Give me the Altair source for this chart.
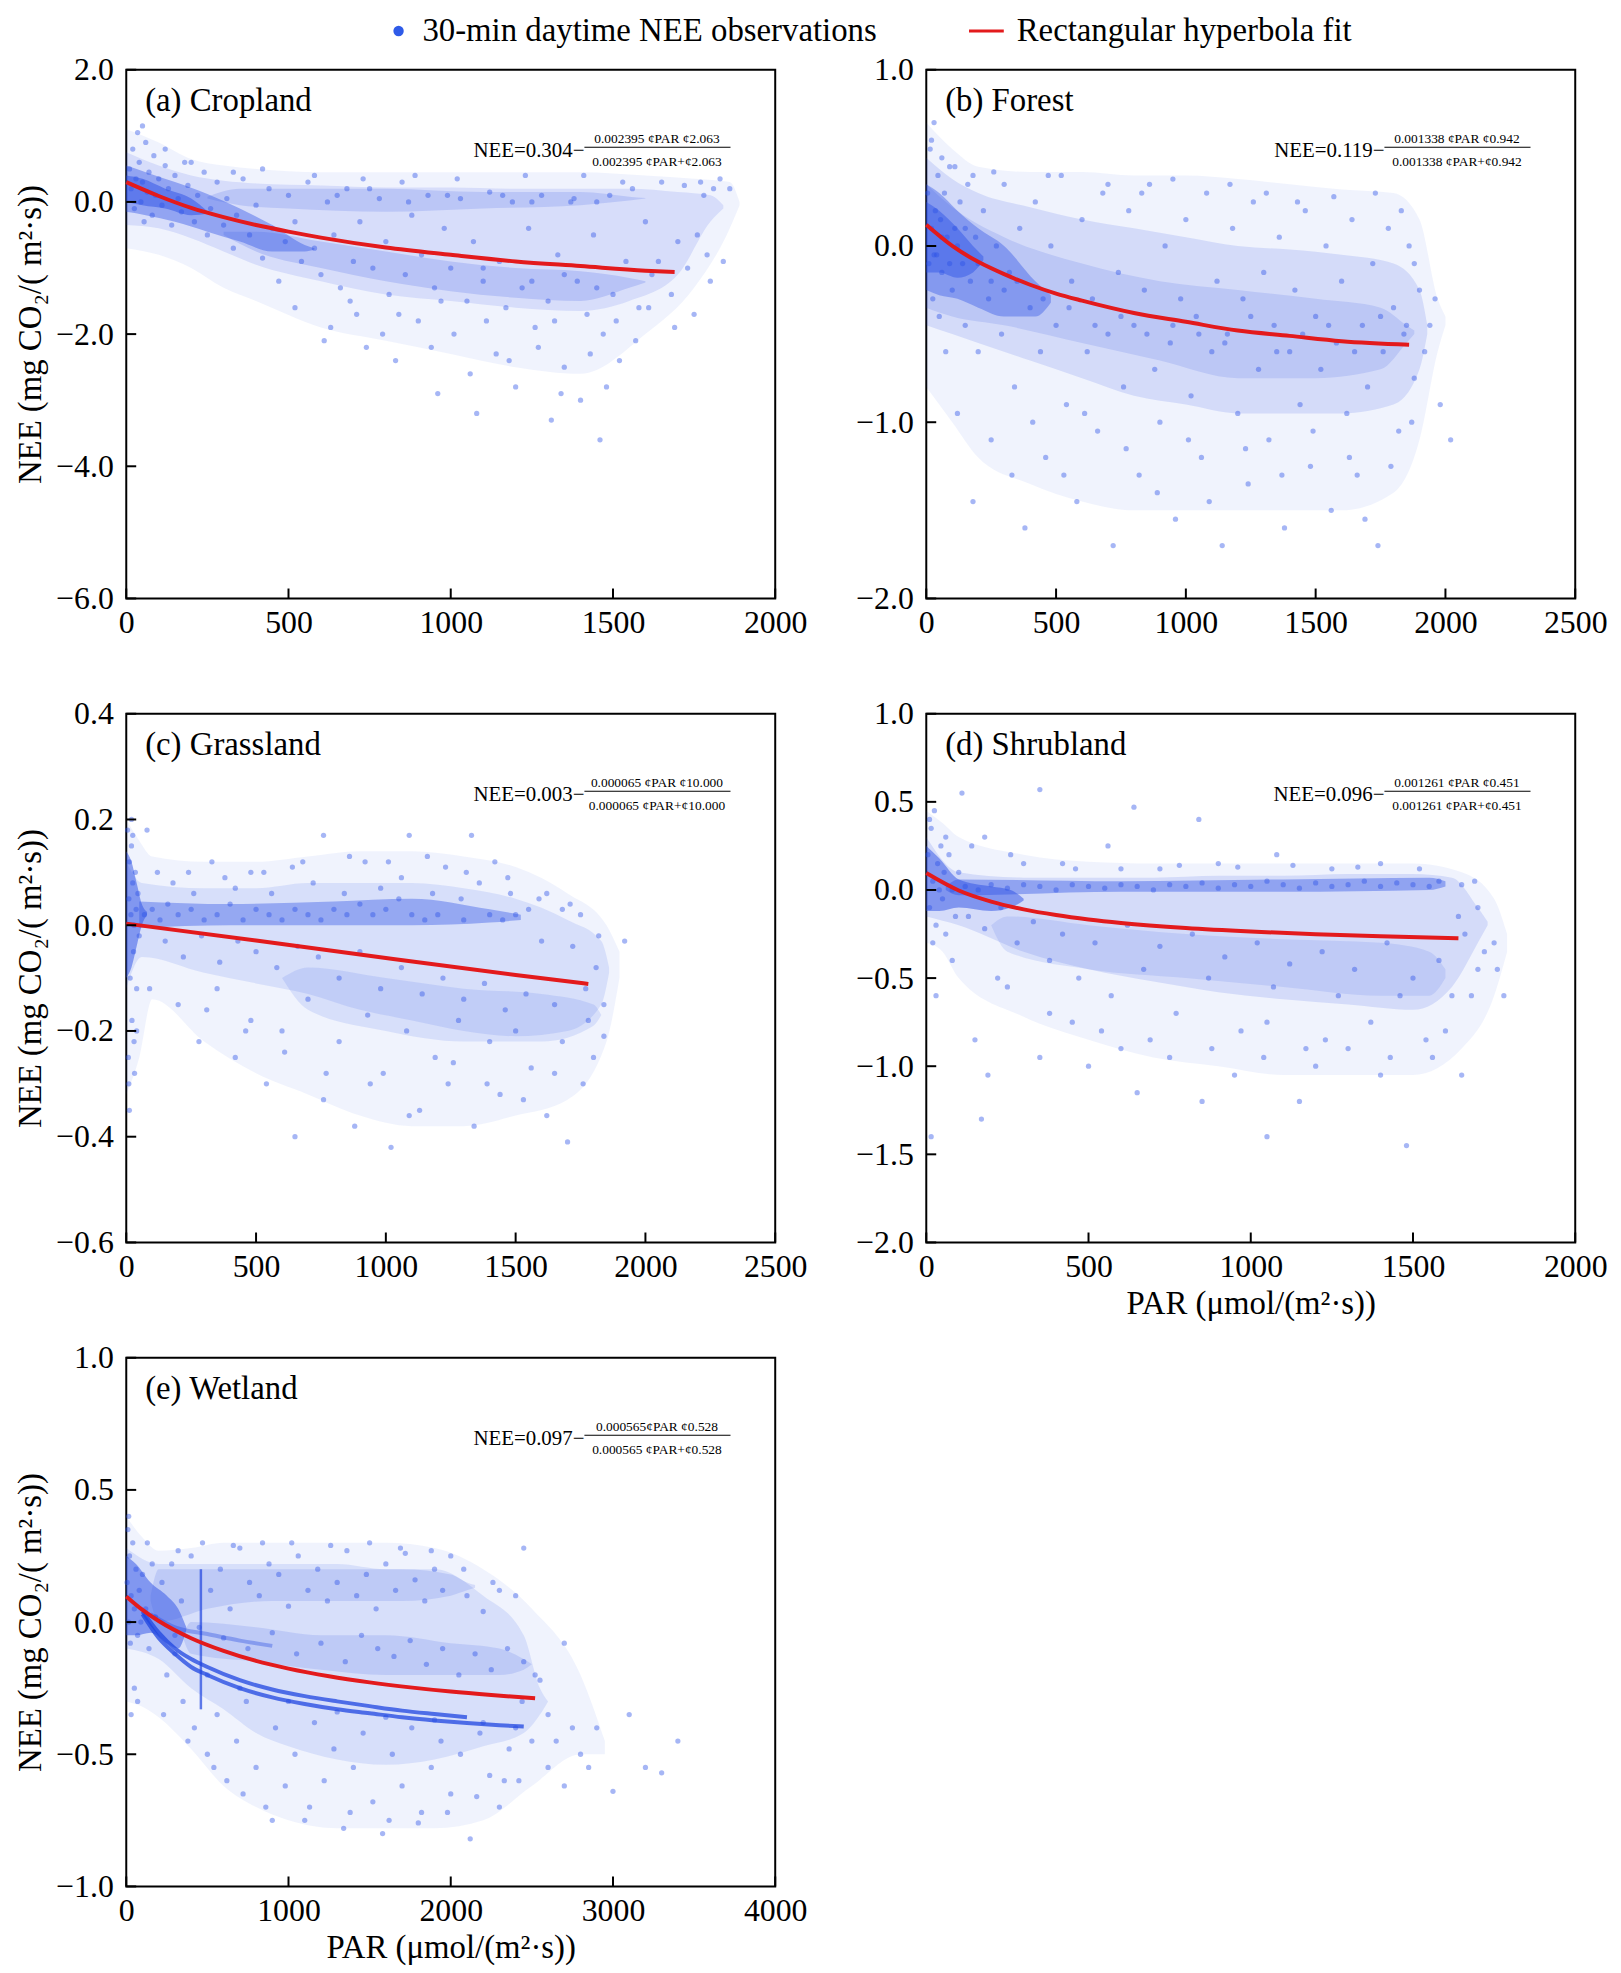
import altair as alt
import pandas as pd

FONT = "Liberation Serif"
BLUE = "#2b50e6"
RED = "#e31a1c"
W, H = 653, 532

PANEL_LABELS = ["(a) Cropland", "(b) Forest", "(c) Grassland", "(d) Shrubland", "(e) Wetland"]
EQ_R = ["0.304", "0.119", "0.003", "0.096", "0.097"]
EQ_NUM = ["0.002395 ¢PAR ¢2.063", "0.001338 ¢PAR ¢0.942", "0.000065 ¢PAR ¢10.000",
          "0.001261 ¢PAR ¢0.451", "0.000565¢PAR ¢0.528"]
EQ_DEN = ["0.002395 ¢PAR+¢2.063", "0.001338 ¢PAR+¢0.942", "0.000065 ¢PAR+¢10.000",
          "0.001261 ¢PAR+¢0.451", "0.000565 ¢PAR+¢0.528"]
LEGEND_LABELS = ["30-min daytime NEE observations", "Rectangular hyperbola fit"]
X_TITLE = "PAR (μmol/(m²·s))"
Y_TITLE = "NEE (mg CO₂/( m²·s))"

X_DOMAINS = [[0, 2000], [0, 2500], [0, 2500], [0, 2000], [0, 4000]]
X_TICKS = [[0, 500, 1000, 1500, 2000], [0, 500, 1000, 1500, 2000, 2500],
           [0, 500, 1000, 1500, 2000, 2500], [0, 500, 1000, 1500, 2000],
           [0, 1000, 2000, 3000, 4000]]
Y_DOMAINS = [[-6, 2], [-2, 1], [-0.6, 0.4], [-2, 1], [-1, 1]]
Y_TICKS = [[-6, -4, -2, 0, 2], [-2, -1, 0, 1], [-0.6, -0.4, -0.2, 0, 0.2, 0.4],
           [-2, -1.5, -1, -0.5, 0, 0.5, 1], [-1, -0.5, 0, 0.5, 1]]

# ---------------- fitted curves ----------------
CROP_FIT_PAR = [0, 100, 200, 300, 400, 500, 600, 800, 1000, 1200, 1400, 1600, 1690]
CROP_FIT_NEE = [0.30, 0.09, -0.09, -0.23, -0.35, -0.45, -0.54, -0.69, -0.80, -0.90, -0.97, -1.04, -1.06]
FOREST_FIT_PAR = [0, 100, 200, 300, 400, 500, 600, 800, 1000, 1200, 1400, 1600, 1860]
FOREST_FIT_NEE = [0.12, 0.00, -0.09, -0.16, -0.22, -0.27, -0.31, -0.38, -0.43, -0.48, -0.51, -0.54, -0.56]
GRASS_FIT_PAR = [0, 500, 1000, 1500, 1780]
GRASS_FIT_NEE = [0.003, -0.029, -0.062, -0.094, -0.111]
SHRUB_FIT_PAR = [0, 100, 200, 300, 400, 500, 600, 800, 1000, 1200, 1400, 1640]
SHRUB_FIT_NEE = [0.096, -0.003, -0.066, -0.11, -0.142, -0.167, -0.187, -0.216, -0.236, -0.251, -0.263, -0.274]
WET_FIT_PAR = [0, 100, 200, 400, 600, 800, 1000, 1250, 1500, 1750, 2000, 2250, 2520]
WET_FIT_NEE = [0.097, 0.046, 0.004, -0.061, -0.109, -0.147, -0.176, -0.205, -0.228, -0.247, -0.263, -0.276, -0.288]

# ---------------- density envelopes of the observation clouds: (par, lo, hi) ----------------
CROP_OUTER = [(0, -0.7, 1.1), (100, -0.8, 0.9), (200, -1.0, 0.65), (300, -1.3, 0.55), (400, -1.5, 0.5),
              (600, -1.9, 0.45), (800, -2.1, 0.45), (1000, -2.3, 0.45), (1200, -2.5, 0.45), (1400, -2.6, 0.45),
              (1600, -2.0, 0.4), (1750, -1.3, 0.35), (1860, -0.4, 0.3), (1890, -0.05, 0.0)]
CROP_CORE = [(0, -0.35, 0.75), (100, -0.4, 0.55), (200, -0.55, 0.4), (300, -0.75, 0.32), (400, -0.95, 0.28),
             (600, -1.2, 0.25), (800, -1.4, 0.22), (1000, -1.5, 0.22), (1200, -1.6, 0.2), (1400, -1.65, 0.2),
             (1550, -1.5, 0.2), (1700, -1.1, 0.15), (1800, -0.3, 0.1), (1840, -0.1, -0.05)]
CROP_UPPER = [(250, 0.05, 0.08), (350, -0.05, 0.2), (500, -0.1, 0.2), (800, -0.15, 0.2), (1100, -0.1, 0.15),
              (1400, -0.05, 0.15), (1550, 0.02, 0.08), (1600, 0.05, 0.06)]
CROP_LOWER = [(300, -0.5, -0.45), (400, -0.75, -0.45), (600, -1.0, -0.6), (800, -1.2, -0.75),
              (1000, -1.35, -0.9), (1200, -1.45, -1.0), (1400, -1.5, -1.05), (1550, -1.3, -1.15),
              (1600, -1.22, -1.2)]
CROP_DENSE = [(0, -0.15, 0.55), (60, -0.2, 0.45), (150, -0.3, 0.3), (250, -0.45, 0.12), (350, -0.6, -0.1),
              (450, -0.75, -0.35), (550, -0.75, -0.65), (580, -0.72, -0.7)]
CROP_CLUSTER = [(0, 0.0, 0.4), (50, -0.05, 0.35), (120, -0.1, 0.2), (200, -0.2, 0.05), (250, -0.18, -0.14)]

FOREST_OUTER = [(0, -0.8, 0.7), (100, -1.0, 0.55), (200, -1.2, 0.45), (400, -1.35, 0.42), (600, -1.45, 0.42),
                (800, -1.5, 0.4), (1000, -1.5, 0.4), (1200, -1.5, 0.38), (1400, -1.5, 0.35), (1600, -1.5, 0.32),
                (1800, -1.4, 0.3), (1900, -1.1, 0.15), (1970, -0.6, -0.3), (2000, -0.45, -0.4)]
FOREST_CORE = [(0, -0.45, 0.5), (100, -0.5, 0.38), (200, -0.55, 0.3), (400, -0.65, 0.22), (600, -0.75, 0.15),
               (800, -0.85, 0.1), (1000, -0.9, 0.05), (1200, -0.95, 0.0), (1400, -0.95, -0.02),
               (1600, -0.95, -0.05), (1800, -0.9, -0.1), (1900, -0.7, -0.25), (1930, -0.5, -0.45)]
FOREST_MID = [(0, -0.35, 0.35), (100, -0.4, 0.22), (300, -0.45, 0.05), (600, -0.55, -0.1), (900, -0.65, -0.2),
              (1200, -0.75, -0.25), (1500, -0.75, -0.3), (1750, -0.7, -0.35), (1850, -0.55, -0.45),
              (1880, -0.5, -0.48)]
FOREST_DENSE = [(0, -0.25, 0.35), (50, -0.28, 0.3), (120, -0.3, 0.2), (200, -0.35, 0.1), (300, -0.4, 0.0),
                (420, -0.4, -0.2), (480, -0.32, -0.28)]
FOREST_CLUSTER = [(0, -0.15, 0.25), (50, -0.15, 0.2), (120, -0.18, 0.1), (180, -0.15, 0.0), (220, -0.08, -0.06)]

GRASS_OUTER = [(0, -0.32, 0.2), (50, -0.25, 0.16), (100, -0.14, 0.13), (300, -0.22, 0.12), (500, -0.28, 0.12),
               (700, -0.32, 0.13), (900, -0.36, 0.14), (1100, -0.38, 0.14), (1300, -0.38, 0.13),
               (1500, -0.36, 0.11), (1700, -0.33, 0.06), (1850, -0.22, 0.0), (1900, -0.1, -0.05)]
GRASS_CORE = [(0, -0.12, 0.12), (60, -0.06, 0.08), (300, -0.09, 0.07), (500, -0.11, 0.07), (700, -0.13, 0.08),
              (900, -0.16, 0.08), (1100, -0.18, 0.08), (1300, -0.2, 0.07), (1500, -0.21, 0.05),
              (1700, -0.2, 0.01), (1830, -0.15, -0.03), (1860, -0.09, -0.08)]
GRASS_LOWER = [(600, -0.1, -0.1), (700, -0.16, -0.08), (1000, -0.2, -0.1), (1300, -0.22, -0.12),
               (1600, -0.22, -0.13), (1800, -0.19, -0.15), (1830, -0.17, -0.17)]
GRASS_STRIPE = [(50, -0.005, 0.045), (400, 0.0, 0.04), (800, 0.0, 0.045), (1100, 0.0, 0.05), (1400, 0.005, 0.03),
                (1520, 0.01, 0.02)]
GRASS_CLUSTER = [(0, -0.1, 0.14), (20, -0.08, 0.12), (40, -0.04, 0.08), (60, 0.0, 0.04), (80, 0.02, 0.025)]

SHRUB_OUTER = [(0, -0.3, 0.45), (50, -0.35, 0.38), (100, -0.5, 0.3), (300, -0.72, 0.2), (500, -0.85, 0.16),
               (700, -0.95, 0.15), (900, -1.0, 0.15), (1100, -1.05, 0.15), (1300, -1.05, 0.15),
               (1500, -1.05, 0.15), (1650, -0.9, 0.1), (1750, -0.6, -0.05), (1790, -0.35, -0.25)]
SHRUB_CORE = [(0, -0.15, 0.3), (100, -0.2, 0.1), (300, -0.35, 0.07), (500, -0.45, 0.07), (700, -0.52, 0.07),
              (900, -0.58, 0.08), (1100, -0.62, 0.08), (1300, -0.65, 0.09), (1500, -0.68, 0.09),
              (1620, -0.55, 0.07), (1700, -0.3, -0.1), (1730, -0.2, -0.18)]
SHRUB_LOWER = [(200, -0.2, -0.2), (250, -0.35, -0.15), (500, -0.45, -0.2), (800, -0.5, -0.25),
               (1100, -0.55, -0.28), (1400, -0.6, -0.3), (1550, -0.6, -0.35), (1600, -0.5, -0.45)]
SHRUB_STRIPE = [(60, 0.0, 0.02), (100, -0.03, 0.06), (600, -0.01, 0.05), (1100, -0.01, 0.06), (1550, 0.0, 0.07),
                (1600, 0.02, 0.05)]
SHRUB_CLUSTER = [(0, -0.12, 0.25), (40, -0.12, 0.18), (100, -0.1, 0.06), (200, -0.12, 0.02), (260, -0.1, 0.0),
                 (300, -0.06, -0.05)]

WET_OUTER = [(0, -0.3, 0.4), (100, -0.32, 0.32), (200, -0.36, 0.27), (400, -0.48, 0.28), (600, -0.62, 0.3),
             (800, -0.7, 0.3), (1000, -0.75, 0.3), (1300, -0.78, 0.3), (1600, -0.78, 0.3), (1900, -0.78, 0.28),
             (2200, -0.75, 0.2), (2500, -0.62, 0.05), (2800, -0.5, -0.2), (2950, -0.5, -0.45)]
WET_CORE = [(0, -0.1, 0.28), (200, -0.14, 0.22), (400, -0.25, 0.22), (600, -0.33, 0.22), (800, -0.42, 0.22),
            (1000, -0.47, 0.22), (1300, -0.52, 0.22), (1600, -0.54, 0.2), (1900, -0.52, 0.2), (2200, -0.47, 0.1),
            (2450, -0.42, -0.05), (2550, -0.35, -0.25), (2600, -0.3, -0.3)]
WET_UPPER = [(150, 0.08, 0.1), (200, 0.0, 0.2), (500, 0.05, 0.2), (900, 0.08, 0.2), (1300, 0.08, 0.2),
             (1700, 0.08, 0.2), (2000, 0.1, 0.18), (2100, 0.12, 0.15), (2150, 0.13, 0.14)]
WET_MIDDLE = [(350, -0.06, -0.05), (400, -0.12, 0.0), (800, -0.15, -0.02), (1200, -0.18, -0.05),
              (1600, -0.2, -0.05), (2000, -0.2, -0.08), (2300, -0.2, -0.1), (2450, -0.18, -0.14),
              (2500, -0.16, -0.16)]
WET_CLUSTER = [(0, -0.05, 0.25), (60, -0.05, 0.22), (150, -0.04, 0.15), (250, -0.08, 0.1), (320, -0.1, 0.05),
               (370, -0.03, -0.02)]

# ---------------- individual observations (par, nee) ----------------
CROP_OBS = [(10, 0.5), (15, 0.2), (20, 0.8), (25, -0.1), (30, 0.35), (35, 1.05), (40, 0.6), (45, 0.0), (50, 0.3),
            (55, -0.3), (60, 0.9), (65, 0.15), (70, 0.45), (80, -0.2), (85, 0.7), (90, 0.1), (100, 0.35),
            (110, -0.05), (120, 0.55), (130, 0.2), (140, -0.35), (150, 0.4), (160, 0.05), (170, -0.15),
            (180, 0.6), (190, 0.25), (210, -0.3), (220, 0.1), (240, 0.45), (250, -0.5), (260, -0.1), (280, 0.3),
            (300, -0.35), (310, 0.05), (330, -0.7), (340, -0.2), (360, 0.35), (380, -0.5), (400, -0.05),
            (420, -0.85), (440, 0.2), (450, -0.4), (470, -1.2), (490, -0.6), (500, 0.1), (520, -0.3),
            (540, -0.9), (560, 0.3), (580, -0.7), (600, -1.1), (610, -2.1), (620, 0.0), (640, -0.5), (660, -1.3),
            (680, 0.2), (700, -0.9), (710, -1.7), (720, -0.3), (740, -2.2), (760, -1.0), (780, 0.05), (800, -0.6),
            (810, -1.4), (830, -2.4), (850, 0.3), (860, -1.1), (880, -0.2), (900, -1.8), (910, -0.8), (930, 0.1),
            (950, -1.3), (960, -2.9), (980, -0.4), (1000, -1.0), (1010, -2.0), (1030, 0.05), (1050, -1.5),
            (1070, -0.6), (1080, -3.2), (1100, -1.2), (1120, 0.15), (1140, -2.3), (1150, -0.9), (1170, -1.6),
            (1190, 0.0), (1200, -2.8), (1220, -1.3), (1240, -0.4), (1260, -1.9), (1280, 0.1), (1300, -1.5),
            (1310, -3.3), (1330, -0.8), (1350, -2.5), (1370, 0.0), (1390, -1.2), (1400, -3.0), (1420, -1.7),
            (1440, -0.5), (1460, -3.6), (1470, -2.0), (1490, 0.1), (1500, -1.4), (1520, -2.4), (1540, -0.9),
            (1560, 0.2), (1580, -1.6), (1600, -0.3), (1620, -1.1), (1650, 0.3), (1680, -1.4), (1700, -0.6),
            (1720, 0.25), (1750, -1.7), (1770, 0.3), (1790, -0.8), (1810, 0.2), (1830, 0.35),
            (650, 0.1), (750, 0.2), (870, 0.0), (990, 0.1), (1160, 0.1), (1250, 0.0), (1380, 0.05), (1450, 0.0),
            (1100, -1.0), (1250, -1.2), (1350, -1.1), (1450, -1.3),
            (50, 1.15), (120, 0.8), (200, 0.6), (330, 0.45), (420, 0.5), (520, -1.6), (580, 0.4), (630, -1.9),
            (690, -1.5), (730, 0.35), (790, -2.0), (840, -1.7), (890, 0.4), (940, -2.2), (970, -1.5),
            (1020, 0.35), (1060, -2.6), (1110, -1.8), (1180, -2.4), (1230, 0.4), (1270, -2.2), (1320, -1.8),
            (1340, -2.9), (1410, 0.4), (1430, -2.3), (1480, -2.8), (1510, -1.8), (1530, 0.3), (1570, -2.1),
            (1610, -1.6), (1640, -0.9), (1690, -1.9), (1730, -1.0), (1760, -0.5), (1800, -1.2), (1840, -0.9),
            (1860, 0.2), (1780, 0.1)]

FOREST_OBS = [(5, 0.3), (10, -0.1), (15, 0.55), (20, 0.1), (25, -0.3), (30, 0.7), (35, 0.2), (40, -0.05),
              (45, 0.4), (50, -0.4), (55, 0.15), (60, -0.15), (70, 0.3), (75, -0.6), (80, 0.05), (90, 0.45),
              (100, -0.25), (110, 0.1), (120, -0.95), (130, 0.25), (140, -0.1), (150, -0.45), (160, 0.35),
              (170, -0.2), (180, -1.45), (190, 0.05), (200, -0.6), (220, 0.2), (240, -0.3), (250, -1.1),
              (270, 0.0), (290, -0.5), (300, 0.35), (320, -0.15), (340, -0.8), (360, 0.1), (380, -1.6),
              (400, -0.35), (420, 0.25), (440, -0.6), (460, -1.2), (480, 0.0), (500, -0.45), (520, 0.4),
              (540, -0.9), (560, -0.2), (580, -1.45), (600, 0.15), (620, -0.6), (640, -0.3), (660, -1.05),
              (680, 0.3), (700, -0.5), (720, -1.7), (740, -0.15), (760, -0.8), (780, 0.2), (800, -0.45),
              (820, -1.3), (840, -0.25), (860, 0.35), (880, -0.7), (900, -1.0), (920, 0.0), (940, -0.55),
              (960, -1.55), (980, -0.3), (1000, 0.15), (1020, -0.85), (1040, -0.4), (1060, -1.2), (1080, 0.3),
              (1100, -0.6), (1120, -0.2), (1140, -1.7), (1160, -0.5), (1180, 0.1), (1200, -0.95), (1220, -0.3),
              (1240, -1.35), (1260, 0.25), (1280, -0.7), (1300, -0.15), (1320, -1.1), (1340, -0.45), (1360, 0.05),
              (1380, -1.6), (1400, -0.6), (1420, -0.25), (1440, -0.9), (1460, 0.2), (1480, -1.25), (1500, -0.4),
              (1520, -0.7), (1540, 0.0), (1560, -1.5), (1580, -0.55), (1600, -0.2), (1620, -0.95), (1640, 0.15),
              (1660, -1.3), (1680, -0.45), (1700, -0.8), (1720, -0.1), (1740, -1.7), (1760, -0.6), (1780, 0.1),
              (1800, -0.35), (1820, -1.05), (1840, -0.5), (1860, 0.0), (1880, -0.75), (1900, -0.25),
              (1940, -0.45), (1980, -0.9), (2020, -1.1),
              (30, -0.05), (60, 0.05), (90, -0.1), (120, 0.0), (150, 0.1), (200, -0.1), (250, -0.2), (300, -0.25),
              (350, -0.2), (450, -0.3), (550, -0.35), (650, -0.45), (750, -0.4), (850, -0.5), (950, -0.45),
              (1050, -0.5), (1150, -0.55), (1250, -0.4), (1350, -0.6), (1450, -0.5), (1550, -0.45),
              (1650, -0.6), (1750, -0.4), (1850, -0.45),
              (20, 0.6), (60, 0.5), (110, 0.45), (180, 0.4), (260, 0.42), (330, -1.3), (410, -1.0), (470, 0.4),
              (530, -1.3), (610, -0.95), (700, 0.35), (770, -1.15), (830, 0.3), (890, -1.4), (950, 0.38),
              (1010, -1.1), (1090, -1.45), (1170, 0.35), (1230, -1.15), (1310, 0.3), (1370, -1.3), (1430, 0.25),
              (1490, -1.05), (1570, 0.28), (1630, -1.2), (1690, -1.55), (1730, 0.3), (1790, -1.25), (1830, 0.2),
              (1870, -1.0), (1920, -0.6), (1960, -0.3), (1880, -0.1)]

GRASS_OBS = [(5, 0.18), (8, -0.25), (10, 0.05), (12, 0.12), (15, -0.1), (18, 0.02), (20, 0.15), (22, -0.18),
             (25, 0.08), (28, -0.05), (30, 0.0), (32, -0.28), (35, 0.1), (38, 0.03), (40, -0.12), (45, 0.06),
             (50, -0.02), (12, -0.35), (20, 0.2), (30, -0.22),
             (70, 0.02), (100, 0.03), (130, 0.01), (160, 0.04), (200, 0.02), (250, 0.03), (300, 0.01), (350, 0.02),
             (400, 0.04), (450, 0.01), (500, 0.03), (550, 0.02), (600, 0.01), (650, 0.03), (700, 0.02),
             (750, 0.01), (800, 0.03), (850, 0.02), (900, 0.04), (950, 0.02), (1000, 0.03), (1050, 0.05),
             (1100, 0.02), (1150, 0.01), (1200, 0.02), (1300, 0.01), (1400, 0.02), (1450, 0.01), (1500, 0.02),
             (80, 0.18), (120, 0.1), (180, 0.08), (260, 0.06), (330, 0.12), (420, 0.07), (480, 0.1), (560, 0.06),
             (640, 0.11), (720, 0.08), (760, 0.17), (840, 0.06), (920, 0.12), (980, 0.07), (1060, 0.09),
             (1090, 0.17), (1180, 0.06), (1230, 0.11), (1290, 0.05), (1330, 0.17), (1360, 0.08), (1420, 0.12),
             (1480, 0.06), (1550, 0.03), (1620, 0.06), (1680, 0.03), (1750, 0.02),
             (150, -0.03), (220, -0.06), (290, -0.02), (360, -0.07), (430, -0.03), (500, -0.05), (580, -0.08),
             (660, -0.04), (740, -0.06), (820, -0.1), (900, -0.05), (980, -0.12), (1060, -0.08), (1140, -0.13),
             (1220, -0.1), (1300, -0.14), (1380, -0.11), (1460, -0.16), (1540, -0.13), (1600, -0.03),
             (1650, -0.15), (1720, -0.04), (1780, -0.18), (1820, -0.02), (1920, -0.03),
             (200, -0.15), (280, -0.22), (350, -0.12), (420, -0.25), (480, -0.18), (540, -0.3), (600, -0.2),
             (650, -0.4), (700, -0.14), (760, -0.33), (820, -0.22), (880, -0.38), (930, -0.17), (990, -0.28),
             (1020, -0.42), (1080, -0.2), (1130, -0.35), (1190, -0.25), (1240, -0.3), (1280, -0.18),
             (1340, -0.38), (1400, -0.22), (1440, -0.32), (1500, -0.2), (1560, -0.27), (1620, -0.36),
             (1680, -0.22), (1700, -0.41), (1760, -0.3), (1800, -0.25), (1840, -0.21),
             (10, -0.3), (25, 0.17), (40, -0.2), (90, -0.12), (240, 0.1), (310, -0.16), (380, 0.09), (460, -0.2),
             (530, 0.1), (610, -0.24), (680, 0.12), (770, -0.28), (860, 0.13), (940, -0.3), (1010, 0.12),
             (1090, -0.36), (1160, 0.13), (1260, -0.26), (1310, 0.1), (1390, -0.3), (1470, 0.09), (1530, -0.33),
             (1590, 0.05), (1650, -0.28), (1710, 0.04), (1770, -0.12), (1810, -0.08), (1840, -0.15)]

SHRUB_OBS = [(5, 0.2), (10, -0.1), (15, 0.35), (20, 0.05), (25, 0.45), (30, -0.2), (35, 0.15), (40, 0.0),
             (45, 0.25), (50, -0.05), (55, 0.1), (60, -0.25), (70, 0.2), (80, 0.0), (90, -0.15), (100, 0.1),
             (15, -1.4), (30, -0.6),
             (120, 0.02), (160, 0.0), (200, 0.03), (250, 0.01), (300, 0.03), (350, 0.02), (400, 0.0), (450, 0.03),
             (500, 0.02), (550, 0.01), (600, 0.03), (650, 0.02), (700, 0.0), (750, 0.03), (800, 0.02), (850, 0.04),
             (900, 0.01), (950, 0.03), (1000, 0.02), (1050, 0.05), (1100, 0.03), (1150, 0.01), (1200, 0.04),
             (1250, 0.02), (1300, 0.03), (1350, 0.05), (1400, 0.02), (1450, 0.04), (1500, 0.03), (1550, 0.02),
             (1580, 0.05), (1650, 0.03),
             (110, 0.55), (180, 0.3), (260, 0.2), (350, 0.57), (420, 0.15), (560, 0.25), (640, 0.47), (720, 0.12),
             (840, 0.4), (900, 0.15), (1080, 0.2), (1250, 0.12), (1400, 0.15), (1700, -0.1),
             (130, -0.15), (180, -0.22), (230, -0.1), (280, -0.3), (330, -0.18), (380, -0.4), (420, -0.25),
             (470, -0.5), (520, -0.3), (570, -0.6), (620, -0.2), (670, -0.45), (720, -0.32), (770, -0.7),
             (820, -0.25), (870, -0.5), (920, -0.38), (970, -0.8), (1020, -0.3), (1070, -0.55), (1120, -0.42),
             (1170, -0.9), (1220, -0.35), (1270, -0.6), (1320, -0.45), (1370, -0.75), (1420, -0.3), (1460, -0.6),
             (1500, -0.5), (1540, -0.85), (1580, -0.4), (1620, -0.6), (1660, -0.25), (1700, -0.45), (1750, -0.3),
             (1780, -0.6),
             (150, -0.85), (190, -1.05), (170, -1.3), (250, -0.55), (350, -0.95), (450, -0.75), (500, -1.0),
             (600, -0.9), (650, -1.15), (750, -0.95), (850, -1.2), (950, -1.05), (1050, -0.75), (1150, -1.2),
             (1200, -1.0), (1300, -0.9), (1400, -1.05), (1480, -1.45), (1560, -0.95), (1650, -1.05), (1050, -1.4),
             (10, 0.4), (20, -0.3), (60, 0.3), (80, -0.4), (140, 0.25), (220, -0.5), (300, 0.15), (380, -0.7),
             (460, 0.12), (540, -0.8), (600, 0.12), (690, -0.85), (780, 0.14), (880, -0.9), (960, 0.13),
             (1040, -0.95), (1130, 0.14), (1230, -0.85), (1330, 0.13), (1430, -0.95), (1520, 0.12), (1600, -0.8),
             (1680, -0.6), (1720, -0.35), (1760, -0.45), (1690, 0.05), (1640, -0.15)]

WET_OBS = [(5, 0.15), (10, 0.35), (15, 0.0), (20, 0.25), (25, -0.08), (30, 0.1), (40, 0.3), (50, 0.05), (60, 0.2),
           (70, -0.05), (80, 0.12), (90, 0.0), (100, 0.18), (120, 0.05), (140, -0.1), (160, 0.22), (180, 0.02),
           (30, -0.35), (50, -0.25),
           (220, 0.15), (280, 0.22), (340, 0.08), (400, 0.25), (520, 0.12), (580, 0.2), (640, 0.05), (700, 0.28),
           (760, 0.15), (820, 0.1), (880, 0.22), (940, 0.18), (1000, 0.06), (1060, 0.25), (1120, 0.12),
           (1180, 0.2), (1240, 0.08), (1300, 0.15), (1360, 0.27), (1420, 0.1), (1480, 0.18), (1540, 0.05),
           (1600, 0.22), (1660, 0.12), (1720, 0.26), (1780, 0.16), (1840, 0.08), (1900, 0.2), (1950, 0.12),
           (2000, 0.25), (2100, 0.1), (2200, 0.04), (2300, 0.12), (2400, 0.1), (2450, 0.28),
           (300, -0.05), (450, -0.02), (600, -0.06), (750, -0.1), (900, -0.04), (1050, -0.12), (1200, -0.08),
           (1350, -0.15), (1450, -0.05), (1550, -0.1), (1650, -0.13), (1750, -0.07), (1850, -0.16), (1950, -0.1),
           (2050, -0.2), (2150, -0.12), (2250, -0.18), (2350, -0.1), (2450, -0.15), (2550, -0.22), (2700, -0.08),
           (250, -0.2), (350, -0.3), (420, -0.4), (500, -0.5), (560, -0.35), (620, -0.6), (680, -0.45),
           (740, -0.3), (800, -0.55), (860, -0.7), (920, -0.4), (980, -0.62), (1040, -0.5), (1100, -0.75),
           (1160, -0.38), (1220, -0.6), (1280, -0.48), (1340, -0.78), (1400, -0.55), (1460, -0.42), (1520, -0.68),
           (1580, -0.8), (1640, -0.5), (1700, -0.62), (1760, -0.4), (1820, -0.72), (1880, -0.55), (1940, -0.45),
           (2000, -0.65), (2060, -0.5), (2120, -0.82), (2180, -0.42), (2240, -0.58), (2300, -0.7), (2360, -0.48),
           (2420, -0.6), (2500, -0.45), (2600, -0.55), (2700, -0.62), (2800, -0.5), (2900, -0.4), (3000, -0.64),
           (3100, -0.35), (3200, -0.55), (3300, -0.57), (3400, -0.45),
           (300, -0.12), (500, -0.2), (700, -0.25), (1000, -0.3), (1300, -0.34), (1600, -0.36), (1900, -0.37),
           (2200, -0.38), (2400, -0.4),
           (15, 0.4), (70, -0.3), (130, 0.3), (230, -0.35), (320, 0.27), (380, -0.45), (470, 0.3), (540, -0.55),
           (660, 0.29), (720, -0.65), (840, 0.3), (900, -0.75), (1020, 0.3), (1130, -0.7), (1260, 0.29),
           (1380, -0.72), (1500, 0.3), (1620, -0.75), (1690, 0.28), (1800, -0.76), (1880, 0.27), (1980, -0.72),
           (2080, 0.2), (2160, -0.66), (2260, 0.15), (2330, -0.6), (2440, -0.3), (2520, -0.2), (2600, -0.35),
           (2650, -0.45), (2750, -0.4), (2850, -0.55)]

# dense point tracks in the wetland panel
WET_TRACK_A_PAR = [100, 200, 300, 400, 500, 700, 900, 1100, 1300, 1500, 1700, 1900, 2100, 2300, 2450]
WET_TRACK_A_NEE = [0.03, -0.06, -0.12, -0.17, -0.2, -0.25, -0.285, -0.31, -0.33, -0.345, -0.36, -0.372, -0.382, -0.39, -0.395]
WET_TRACK_B_PAR = [100, 200, 300, 400, 500, 700, 900, 1100, 1300, 1500, 1700, 1900, 2100]
WET_TRACK_B_NEE = [0.04, -0.04, -0.1, -0.14, -0.17, -0.22, -0.255, -0.28, -0.3, -0.318, -0.335, -0.348, -0.36]
WET_TRACK_C_PAR = [150, 300, 500, 700, 900]
WET_TRACK_C_NEE = [0.03, -0.02, -0.045, -0.07, -0.09]
WET_VLINE = (460, -0.33, 0.2)

ONE = pd.DataFrame({"k": [0]})


def make_panel(i, obs, haze, fit_par, fit_nee, xtitle, ytitle, extras=None, legend=False):
    xs = alt.Scale(domain=X_DOMAINS[i], nice=False, zero=False)
    ys = alt.Scale(domain=Y_DOMAINS[i], nice=False, zero=False)
    xaxis = alt.Axis(values=X_TICKS[i], format="d", labelFlush=False, labelOverlap=False,
                     labelPadding=9, titlePadding=6, ticks=False, tickSize=0, domain=False, grid=False)
    yaxis = alt.Axis(values=Y_TICKS[i], format=".1f", labelFlush=False, labelOverlap=False,
                     labelPadding=13, titlePadding=8, ticks=False, tickSize=0, domain=False, grid=False)

    def X(f):
        return alt.X(f"{f}:Q", scale=xs, axis=xaxis, title=xtitle)

    def Y(f):
        return alt.Y(f"{f}:Q", scale=ys, axis=yaxis, title=ytitle)

    layers = []
    for seg, op in haze:
        sdf = pd.DataFrame(seg, columns=["par", "lo", "hi"])
        layers.append(alt.Chart(sdf).mark_area(color=BLUE, opacity=op, interpolate="monotone")
                      .encode(x=X("par"), y=Y("lo"), y2="hi"))
    odf = pd.DataFrame(obs, columns=["par", "nee"])
    layers.append(alt.Chart(odf).mark_circle(color=BLUE, opacity=0.42, size=28)
                  .encode(x=X("par"), y=Y("nee")))
    if extras:
        for tp, tn, op in extras["tracks"]:
            tdf = pd.DataFrame({"par": tp, "nee": tn})
            layers.append(alt.Chart(tdf).mark_line(color="#1f45e0", strokeWidth=4, opacity=op,
                                                   interpolate="monotone")
                          .encode(x=X("par"), y=Y("nee")))
        vp, vlo, vhi = extras["vline"]
        vdf = pd.DataFrame({"par": [vp], "lo": [vlo], "hi": [vhi]})
        layers.append(alt.Chart(vdf).mark_rule(color="#1f45e0", strokeWidth=2.5, opacity=0.7)
                      .encode(x=X("par"), y=Y("lo"), y2="hi"))
    fdf = pd.DataFrame({"par": fit_par, "nee": fit_nee})
    layers.append(alt.Chart(fdf).mark_line(color=RED, strokeWidth=4, interpolate="monotone")
                  .encode(x=X("par"), y=Y("nee")))
    # inward ticks
    layers.append(alt.Chart(pd.DataFrame({"par": X_TICKS[i]})).mark_rule(color="black", strokeWidth=2)
                  .encode(x=X("par"), y=alt.value(H), y2=alt.value(H - 10)))
    layers.append(alt.Chart(pd.DataFrame({"nee": Y_TICKS[i]})).mark_rule(color="black", strokeWidth=2)
                  .encode(y=Y("nee"), x=alt.value(0), x2=alt.value(10)))
    # panel label
    layers.append(alt.Chart(ONE).mark_text(align="left", baseline="middle", font=FONT, fontSize=33,
                                           color="black")
                  .encode(x=alt.value(19), y=alt.value(32), text=alt.value(PANEL_LABELS[i])))
    # equation
    layers.append(alt.Chart(ONE).mark_text(align="right", baseline="middle", font=FONT, fontSize=21,
                                           color="black")
                  .encode(x=alt.value(461), y=alt.value(82), text=alt.value("NEE=" + EQ_R[i] + "−")))
    layers.append(alt.Chart(ONE).mark_text(align="center", baseline="middle", font=FONT, fontSize=13.5,
                                           color="black")
                  .encode(x=alt.value(534), y=alt.value(70), text=alt.value(EQ_NUM[i])))
    layers.append(alt.Chart(ONE).mark_text(align="center", baseline="middle", font=FONT, fontSize=13.5,
                                           color="black")
                  .encode(x=alt.value(534), y=alt.value(93), text=alt.value(EQ_DEN[i])))
    layers.append(alt.Chart(ONE).mark_rule(color="black", strokeWidth=1.2)
                  .encode(x=alt.value(461), x2=alt.value(608), y=alt.value(78)))
    if legend:
        layers.append(alt.Chart(ONE).mark_circle(color="#2f5be8", opacity=1, size=110)
                      .encode(x=alt.value(274), y=alt.value(-39)))
        layers.append(alt.Chart(ONE).mark_text(align="left", baseline="middle", font=FONT, fontSize=33,
                                               color="black")
                      .encode(x=alt.value(298), y=alt.value(-39), text=alt.value(LEGEND_LABELS[0])))
        layers.append(alt.Chart(ONE).mark_rule(color=RED, strokeWidth=3)
                      .encode(x=alt.value(848), x2=alt.value(883), y=alt.value(-39)))
        layers.append(alt.Chart(ONE).mark_text(align="left", baseline="middle", font=FONT, fontSize=33,
                                               color="black")
                      .encode(x=alt.value(896), y=alt.value(-39), text=alt.value(LEGEND_LABELS[1])))
    return alt.layer(*layers).properties(width=W, height=H)


wet_extras = {
    "tracks": [(WET_TRACK_A_PAR, WET_TRACK_A_NEE, 0.75), (WET_TRACK_B_PAR, WET_TRACK_B_NEE, 0.75),
               (WET_TRACK_C_PAR, WET_TRACK_C_NEE, 0.35)],
    "vline": WET_VLINE,
}

crop_haze = [(CROP_OUTER, 0.07), (CROP_CORE, 0.13), (CROP_UPPER, 0.16), (CROP_LOWER, 0.18),
             (CROP_DENSE, 0.4), (CROP_CLUSTER, 0.5)]
forest_haze = [(FOREST_OUTER, 0.07), (FOREST_CORE, 0.14), (FOREST_MID, 0.14), (FOREST_DENSE, 0.38),
               (FOREST_CLUSTER, 0.45)]
grass_haze = [(GRASS_OUTER, 0.07), (GRASS_CORE, 0.12), (GRASS_LOWER, 0.12), (GRASS_STRIPE, 0.38),
              (GRASS_CLUSTER, 0.5)]
shrub_haze = [(SHRUB_OUTER, 0.07), (SHRUB_CORE, 0.14), (SHRUB_LOWER, 0.12), (SHRUB_STRIPE, 0.4),
              (SHRUB_CLUSTER, 0.5)]
wet_haze = [(WET_OUTER, 0.07), (WET_CORE, 0.12), (WET_UPPER, 0.14), (WET_MIDDLE, 0.14), (WET_CLUSTER, 0.5)]

pa = make_panel(0, CROP_OBS, crop_haze, CROP_FIT_PAR, CROP_FIT_NEE, None, Y_TITLE, legend=True)
pb = make_panel(1, FOREST_OBS, forest_haze, FOREST_FIT_PAR, FOREST_FIT_NEE, None, None)
pc = make_panel(2, GRASS_OBS, grass_haze, GRASS_FIT_PAR, GRASS_FIT_NEE, None, Y_TITLE)
pd_ = make_panel(3, SHRUB_OBS, shrub_haze, SHRUB_FIT_PAR, SHRUB_FIT_NEE, X_TITLE, None)
pe = make_panel(4, WET_OBS, wet_haze, WET_FIT_PAR, WET_FIT_NEE, X_TITLE, Y_TITLE, extras=wet_extras)

chart = (
    alt.concat(pa, pb, pc, pd_, pe, columns=2, spacing={"row": 116, "column": 152}, bounds="flush")
    .properties(padding={"left": 5, "right": 5, "top": 0, "bottom": 5})
    .configure_view(stroke="black", strokeWidth=2)
    .configure_axis(labelFont=FONT, titleFont=FONT, labelFontSize=32, titleFontSize=33,
                    titleFontWeight="normal", labelColor="black", titleColor="black")
)

chart.save("out.html", embed_options={"renderer": "svg", "actions": False})
